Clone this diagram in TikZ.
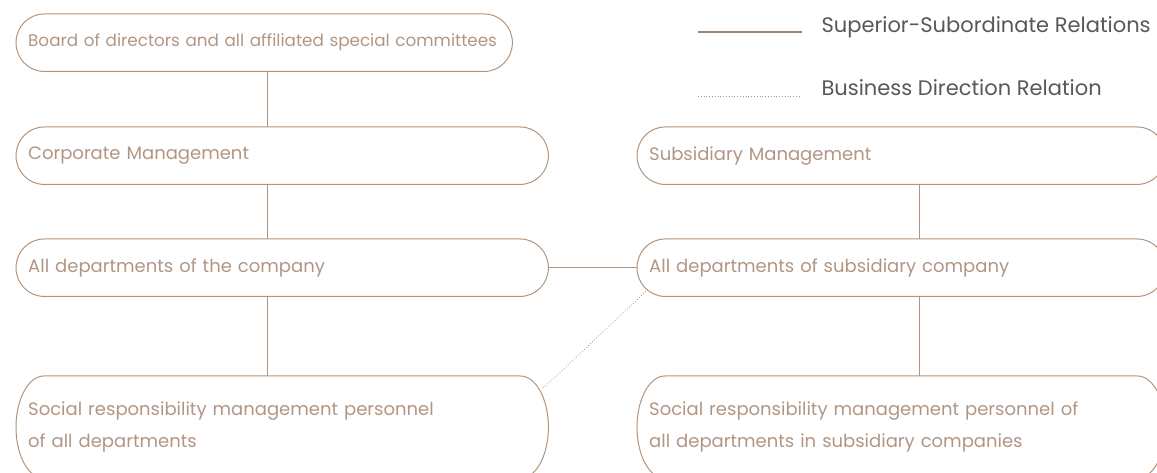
\documentclass[tikz,border=0pt]{standalone}
\usepackage{fontspec}
\setmainfont{Poppins}
\usetikzlibrary{calc}
\definecolor{boxline}{RGB}{178,148,124}
\definecolor{boxtext}{RGB}{176,150,132}
\definecolor{legtext}{RGB}{88,88,88}
\tikzset{
  orgchart/.style={
    x=1pt, y=1pt,
    unit/.style={
        anchor=north west,
        minimum height=57pt,
        inner xsep=12pt,
        inner ysep=0pt,
        text width=##1,
        align=left,
        text=boxtext,
        font=\fontsize{18}{32}\selectfont,
    },
    link/.style={draw=boxline, line width=1pt},
    busy/.style={draw=boxline, line width=0.8pt, dotted},
    legend/.style={anchor=west, text=legtext, font=\fontsize{21}{24}\selectfont},
  }
}
% outline with elliptic ends, x radius fixed, y radius half the height
\newcommand{\pillbox}[1]{
    \draw[link] let \p1=(#1.north east), \p2=(#1.south west), \n1={(\y1-\y2)/2} in
        ([xshift=28pt]#1.north west) -- ([xshift=-28pt]#1.north east)
        arc[start angle=90, end angle=-90, x radius=28pt, y radius=\n1]
        -- ([xshift=28pt]#1.south west)
        arc[start angle=270, end angle=90, x radius=28pt, y radius=\n1] -- cycle;
}

\begin{document}
\begin{tikzpicture}[orgchart]
    \useasboundingbox (0,0) rectangle (1157,473);

    % company side
    \node[unit=472pt, font=\fontsize{16.8}{32}\selectfont] (board) at (16,459) {Board of directors and all affiliated special committees};
    \node[unit=508pt] (corp) at (16,346) {Corporate Management};
    \node[unit=508pt] (dept) at (16,234) {All departments of the company};
    \node[unit=508pt, minimum height=102pt] (staff) at (16,97)
        {Social responsibility management personnel\\of all departments};

    % subsidiary side
    \node[unit=504pt] (submgmt) at (637,346) {Subsidiary Management};
    \node[unit=504pt] (subdept) at (637,234) {All departments of subsidiary company};
    \node[unit=504pt, minimum height=102pt] (substaff) at (637,97)
        {Social responsibility management personnel of\\all departments in subsidiary companies};

    \foreach \u in {board,corp,dept,staff,submgmt,subdept,substaff}
        {\pillbox{\u}}

    % trunks
    \coordinate (ltrunk) at (267,0);
    \coordinate (rtrunk) at (919,0);
    \draw[link] (board.south -| ltrunk) -- (corp.north -| ltrunk);
    \draw[link] (corp.south -| ltrunk) -- (dept.north -| ltrunk);
    \draw[link] (dept.south -| ltrunk) -- (staff.north -| ltrunk);
    \draw[link] (submgmt.south -| rtrunk) -- (subdept.north -| rtrunk);
    \draw[link] (subdept.south -| rtrunk) -- (substaff.north -| rtrunk);
    \draw[link] (dept.east) -- (subdept.west);
    \draw[busy] ([xshift=-5pt,yshift=-12pt]staff.north east) -- ([xshift=11pt,yshift=7pt]subdept.south west);

    % legend
    \coordinate (solidA) at (698,441);
    \coordinate (solidB) at (802,441);
    \coordinate (dotA) at (698,377);
    \coordinate (dotB) at (800,377);
    \draw[link, line width=2pt, draw=boxline!90!black] (solidA) -- (solidB);
    \draw[busy] (dotA) -- (dotB);
    \node[legend] (solidtxt) at (818,446) {Superior-Subordinate Relations};
    \node[legend] (dottxt) at (818,385) {Business Direction Relation};
\end{tikzpicture}
\end{document}
